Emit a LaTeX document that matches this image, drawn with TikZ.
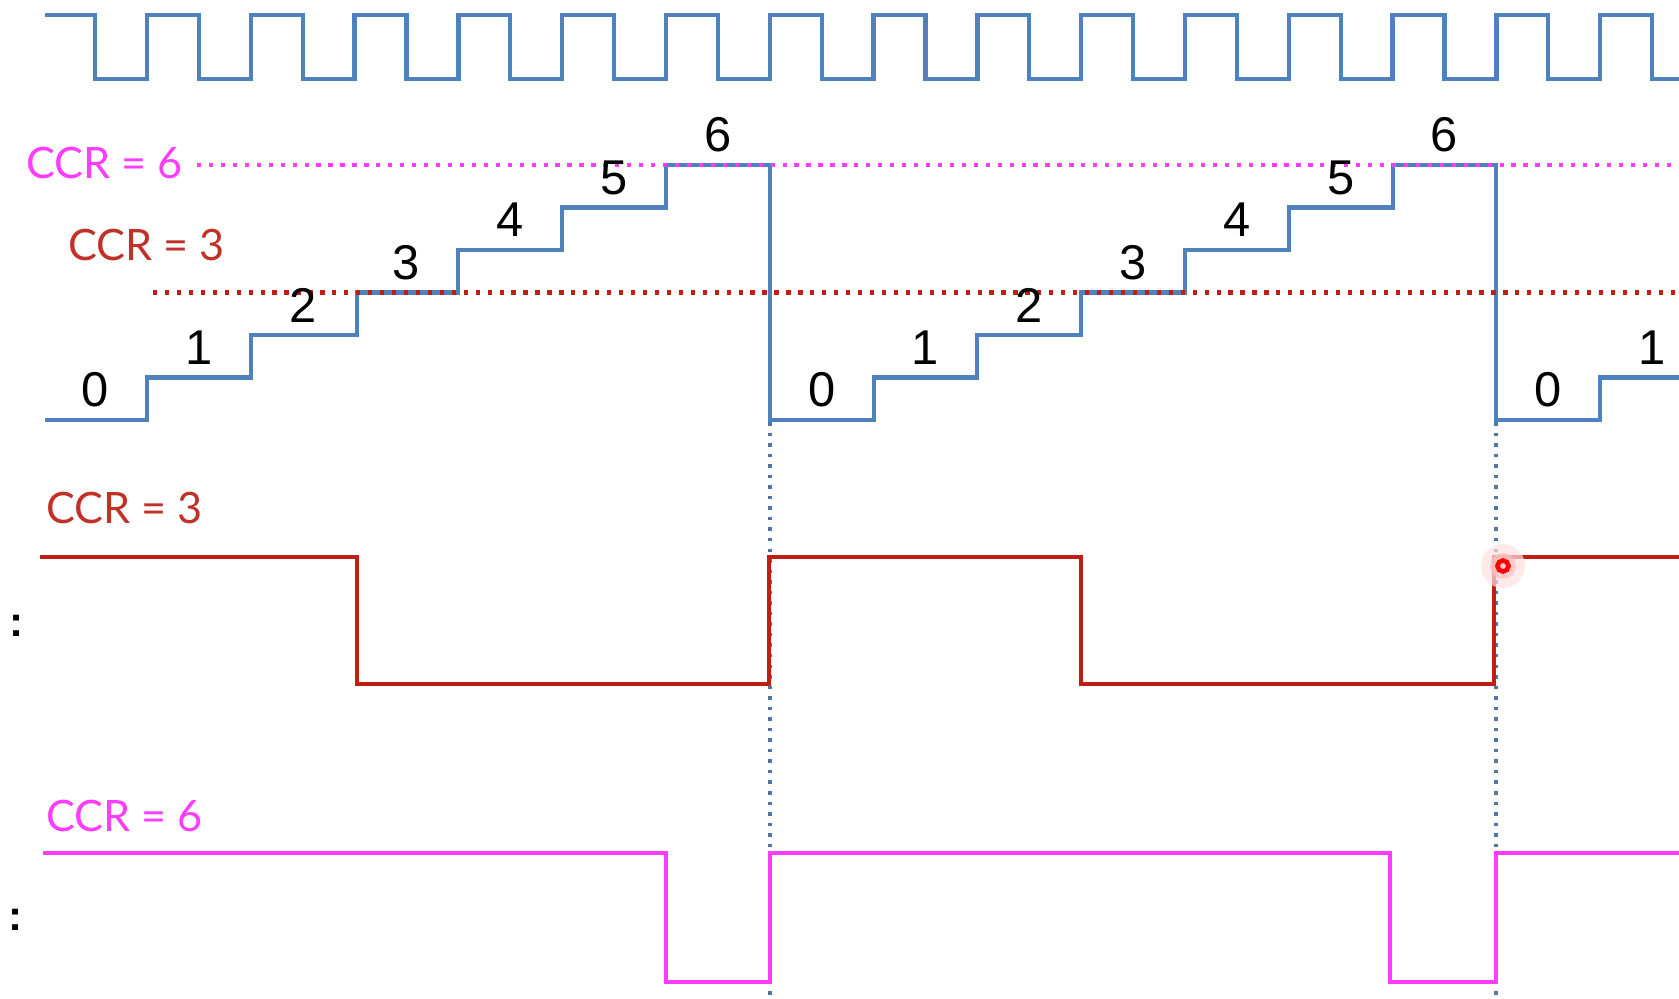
\documentclass[tikz,border=0pt]{standalone}
\usepackage{fontspec}
\setmainfont{Liberation Sans}
\newfontfamily\ccrfont{Lato}

\definecolor{clkblue}{RGB}{79,129,189}
\definecolor{pwmred}{RGB}{190,30,20}
\definecolor{ccrred}{RGB}{192,50,40}
\definecolor{pwmpink}{RGB}{255,60,255}
\definecolor{dotblue}{RGB}{80,115,170}

\tikzset{
  sig/.style={line width=1.2pt},
  outsig/.style={line width=1.4pt},
  cnt/.style={font=\fontsize{13.9}{16}\selectfont, inner sep=0pt},
  ccr/.style={font=\ccrfont\fontsize{12.3}{14}\selectfont, inner sep=0pt},
  dotline/.style={line width=1.2pt, dash pattern=on 1.2pt off 2.2pt},
  vdot/.style={dotblue, line width=1pt, dash pattern=on 1pt off 2pt}
}

\begin{document}
\begin{tikzpicture}
\useasboundingbox (0,0) rectangle (16.79,9.98);

%clock
\draw[sig,clkblue] (0.45,9.83) -- (0.951,9.83)
  \foreach \k in {0,...,14} {-- ++(0,-0.64) -- ++(0.519,0) -- ++(0,0.64) -- ++(0.519,0)}
  -- ++(0,-0.64) -- (16.79,9.19);

%counter
\draw[sig,clkblue] (0.45,5.78) -| (1.47,6.205) -| (2.51,6.63) -| (3.57,7.055)
  -| (4.58,7.48) -| (5.62,7.905) -| (6.66,8.33) -| (7.70,5.78)
  -| (8.74,6.205) -| (9.77,6.63) -| (10.81,7.055) -| (11.85,7.48)
  -| (12.89,7.905) -| (13.93,8.33) -| (14.96,5.78) -| (16.00,6.205) -- (16.79,6.205);

%compare levels
\draw[dotline,pwmpink] (1.97,8.33) -- (16.79,8.33);
\draw[dotline,pwmred] (1.53,7.055) -- (16.79,7.055);

\node[ccr,text=pwmpink] (ccrsix) at (1.045,8.35) {CCR = 6};
\node[ccr,text=ccrred] (ccrthree) at (1.465,7.53) {CCR = 3};

%counter values
\foreach \i in {0,...,6} {
  \node[cnt] (a\i) at ({0.951+1.038*\i},{6.08+0.425*\i}) {\i};
  \node[cnt] (b\i) at ({8.217+1.038*\i},{6.08+0.425*\i}) {\i};
}
\node[cnt] (c0) at (15.483,6.08) {0};
\node[cnt] (c1) at (16.521,6.505) {1};

%update events
\draw[vdot] (7.70,5.76) -- (7.70,0);
\draw[vdot] (14.96,5.76) -- (14.96,0);

%output CCR = 3
\node[ccr,text=ccrred] (outthree) at (1.245,4.90) {CCR = 3};
\draw[outsig,pwmred] (0.40,4.41) -| (3.57,3.14) -| (7.69,4.41) -| (10.81,3.14)
  -| (14.94,4.41) -- (16.79,4.41);
\node (colthree) at (0.17,3.72) {\bfseries\large :};

%output CCR = 6
\node[ccr,text=pwmpink] (outsix) at (1.245,1.82) {CCR = 6};
\draw[outsig,pwmpink] (0.43,1.45) -| (6.66,0.16) -| (7.70,1.45) -| (13.90,0.16)
  -| (14.96,1.45) -- (16.79,1.45);
\node (colsix) at (0.16,0.78) {\bfseries\large :};

%cursor
\fill[red!12,opacity=0.7] (15.03,4.32) circle (0.22);
\fill[red!25,opacity=0.7] (15.03,4.32) circle (0.13);
\draw[red,line width=1.3pt] (15.03,4.32) circle (0.055);
\end{tikzpicture}
\end{document}
